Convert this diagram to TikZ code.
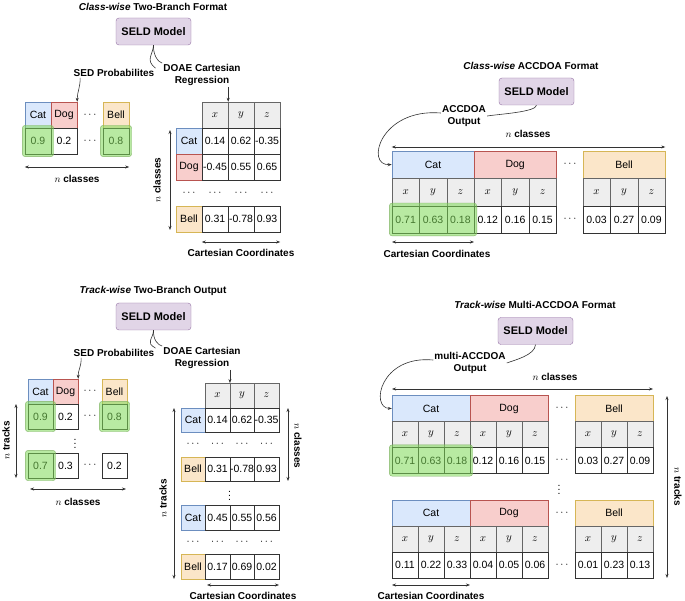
\documentclass[tikz,border=0pt]{standalone}
\usepackage{fontspec}
\setmainfont{Liberation Sans}
\usetikzlibrary{arrows.meta,fit}
\definecolor{bluef}{HTML}{DAE8FC}\definecolor{blued}{HTML}{6C8EBF}
\definecolor{redf}{HTML}{F8CECC}\definecolor{redd}{HTML}{B85450}
\definecolor{orf}{HTML}{FBE6C9}\definecolor{ord}{HTML}{D6B656}
\definecolor{purf}{HTML}{E1D5E7}\definecolor{purd}{HTML}{9673A6}
\definecolor{grf}{HTML}{EEEEEE}
\definecolor{hlf}{HTML}{7ED957}\definecolor{hld}{HTML}{82B366}
\begin{document}
\begin{tikzpicture}[x=1pt,y=-1pt,
  every node/.style={font=\fontsize{10.5}{12}\selectfont},
  model/.style={draw=purd,fill=purf,rounded corners=3pt,minimum width=75pt,minimum height=27pt,font=\fontsize{11}{13}\selectfont\bfseries},
  lab/.style={font=\fontsize{10}{12}\selectfont\bfseries,align=center,inner sep=1pt},
  ttl/.style={font=\fontsize{10}{12}\selectfont\bfseries},
  vd/.style={inner sep=0pt},
  cell/.style={draw=black!80,fill=white,minimum width=#1,minimum height=26pt,inner sep=0pt},
  cell/.default=26pt,
  cat/.style={cell=#1,draw=blued,fill=bluef},cat/.default=26pt,
  dog/.style={cell=#1,draw=redd,fill=redf},dog/.default=26pt,
  bell/.style={cell=#1,draw=ord,fill=orf},bell/.default=26pt,
  ax/.style={cell=#1,draw=black!60,fill=grf},ax/.default=26pt,
  hl/.style={draw=hld,fill=hlf,fill opacity=0.55,rounded corners=3pt,inner sep=2.5pt},
  con/.style={draw=black!80,line width=0.6pt},
  arr/.style={con,-{Stealth[length=4pt,width=3pt]}},
  dim/.style={con,{Stealth[length=4pt,width=3pt]}-{Stealth[length=4pt,width=3pt]}}]
\fill[white] (0,0) rectangle (685,601);
\useasboundingbox (0,0) rectangle (685,601);

% ================= Top-left =================
\node[ttl] (t1) at (153,7) {\textit{Class-wise} Two-Branch Format};
\node[model] (m1) at (153.5,31.5) {SELD Model};
\node[lab] (sed1) at (114,73) {SED Probabilites};
\node[lab] (doa1) at (202,75) {DOAE Cartesian\\Regression};
\draw[con] (m1.south) .. controls (153,55) and (145,60) .. (sed1.north east);
\draw[con] (m1.south) .. controls (153,55) and (158,62) .. (doa1.north west);
\node[cat] (a1) at (38,115) {Cat};
\node[dog] (a2) at (64,115) {Dog};
\node (a3) at (90,115) {$\cdots$};
\node[bell] (a4) at (116,115) {Bell};
\node[cell] (b1) at (38,141) {0.9};
\node[cell] (b2) at (64,141) {0.2};
\node (b3) at (90,141) {$\cdots$};
\node[cell] (b4) at (116,141) {0.8};
\node[hl,fit=(b1)] (g1) {};
\node[hl,fit=(b4)] (g2) {};
\draw[arr] ([xshift=3pt]sed1.south -| a2.east) .. controls +(0,10) and +(0,-10) .. (a2.north east);
\draw[dim] (a1.south west |- 0,167) coordinate (d1) -- (a4.south east |- 0,167) coordinate (d2);
\node[lab] (nc1) at (77,179) {$n$ classes};
\node[ax] (x1) at (215,115) {$x$};
\node[ax] (x2) at (241,115) {$y$};
\node[ax] (x3) at (267,115) {$z$};
\foreach \n/\y/\s/\l/\u/\v/\w in {c/141/cat/Cat/0.14/0.62/-0.35, d/167/dog/Dog/-0.45/0.55/0.65, e/219/bell/Bell/0.31/-0.78/0.93}{
  \node[\s] (tl\n0) at (189,\y) {\l};
  \node[cell] (tl\n1) at (215,\y) {\u};
  \node[cell] (tl\n2) at (241,\y) {\v};
  \node[cell] (tl\n3) at (267,\y) {\w};
}
\foreach \x [count=\i] in {189,215,241,267}{\node[vd] (tld\i) at (\x,193) {$\cdots$};}
\draw[arr] (doa1.south -| x1.east) -- (x1.north east);
\draw[dim] (170,130) coordinate (v1) -- (170,230) coordinate (v2);
\node[lab,rotate=90] (nc2) at (157,180) {$n$ classes};
\draw[dim] (x1.west |- 0,242) coordinate (h1) -- (x3.east |- 0,242) coordinate (h2);
\node[lab] (cc1) at (241,253) {Cartesian Coordinates};

% ================= Bottom-left =================
\node[ttl] (t2) at (153,291) {\textit{Track-wise} Two-Branch Output};
\node[model] (m2) at (153.5,316.5) {SELD Model};
\node[lab] (sed2) at (114,353) {SED Probabilites};
\node[lab] (doa2) at (202,358) {DOAE Cartesian\\Regression};
\draw[con] (m2.south) .. controls (153,340) and (145,342) .. (sed2.north east);
\draw[con] (m2.south) .. controls (153,340) and (158,345) .. (doa2.north west);
\foreach \n/\x/\s/\l in {1/40.5/cat/Cat,2/65.5/dog/Dog,4/114.5/bell/Bell}{\node[\s=25pt,minimum height=25pt] (p\n) at (\x,391.5) {\l};}
\node (p3) at (90,391.5) {$\cdots$};
\foreach \n/\x/\v in {1/40.5/0.9,2/65.5/0.2,4/114.5/0.8}{\node[cell=25pt,minimum height=25pt] (q\n) at (\x,416.5) {\v};}
\node (q3) at (90,416.5) {$\cdots$};
\node[vd] (qv) at (75,441) {$\vdots$};
\foreach \n/\x/\v in {1/40.5/0.7,2/65.5/0.3,4/114.5/0.2}{\node[cell=25pt,minimum height=25pt] (r\n) at (\x,465.5) {\v};}
\node (r3) at (90,465.5) {$\cdots$};
\node[hl,fit=(q1)] (g3) {};
\node[hl,fit=(q4)] (g4) {};
\node[hl,fit=(r1)] (g5) {};
\draw[arr] ([xshift=3pt]sed2.south -| p2.east) .. controls +(0,10) and +(0,-10) .. (p2.north east);
\draw[dim] (16,404) coordinate (v3) -- (16,478) coordinate (v4);
\node[lab,rotate=90] (nt1) at (6,440) {$n$ tracks};
\draw[dim] (30,489) coordinate (h3) -- (126,489) coordinate (h4);
\node[lab] (nc3) at (78,502) {$n$ classes};
\node[ax=24.5pt,minimum height=24.5pt] (y1) at (217.5,395.5) {$x$};
\node[ax=24.5pt,minimum height=24.5pt] (y2) at (242,395.5) {$y$};
\node[ax=24.5pt,minimum height=24.5pt] (y3) at (266.5,395.5) {$z$};
\foreach \n/\y/\s/\l/\u/\v/\w in {c/420/cat/Cat/0.14/0.62/-0.35, d/469/bell/Bell/0.31/-0.78/0.93, e/517.5/cat/Cat/0.45/0.55/0.56, f/566.5/bell/Bell/0.17/0.69/0.02}{
  \node[\s=24.5pt,minimum height=24.5pt] (bl\n0) at (193,\y) {\l};
  \node[cell=24.5pt,minimum height=24.5pt] (bl\n1) at (217.5,\y) {\u};
  \node[cell=24.5pt,minimum height=24.5pt] (bl\n2) at (242,\y) {\v};
  \node[cell=24.5pt,minimum height=24.5pt] (bl\n3) at (266.5,\y) {\w};
}
\foreach \x [count=\i] in {193,217.5,242,266.5}{\node[vd] (bld\i) at (\x,444) {$\cdots$}; \node[vd] (ble\i) at (\x,542) {$\cdots$};}
\node[vd] (blv) at (229.5,493) {$\vdots$};
\draw[arr] (doa2.south -| y1.east) -- (y1.north east);
\draw[dim] (174,408) coordinate (v5) -- (174,579) coordinate (v6);
\node[lab,rotate=90] (nt2) at (163,498) {$n$ tracks};
\draw[dim] (288,408) coordinate (v7) -- (288,481) coordinate (v8);
\node[lab,rotate=-90] (nc4) at (298,446) {$n$ classes};
\draw[dim] (207,585) coordinate (h5) -- (279,585) coordinate (h6);
\node[lab] (cc2) at (243,596) {Cartesian Coordinates};

% ================= Top-right =================
\node[ttl] (t3) at (531,66) {\textit{Class-wise} ACCDOA Format};
\node[model] (m3) at (536.5,91.5) {SELD Model};
\node[lab] (ac1) at (464,116) {ACCDOA\\Output};
\draw[con] (m3.south) .. controls (536,112) and (500,114) .. (ac1.east);
\node[cat=82.2pt,minimum height=27.5pt] (u1) at (433,164.5) {Cat};
\node[dog=82.2pt,minimum height=27.5pt] (u2) at (515.2,164.5) {Dog};
\node (u3) at (570,164.5) {$\cdots$};
\node[bell=82.2pt,minimum height=27.5pt] (u4) at (624,164.5) {Bell};
\draw[arr] (ac1.west) ++(0,-3) .. controls (380,108) and (365,166) .. (u1.west);
\foreach \x/\a/\v [count=\i] in {405.7/x/0.71,433/y/0.63,460.4/z/0.18,487.8/x/0.12,515.2/y/0.16,542.6/z/0.15,596.6/x/0.03,624/y/0.27,651.4/z/0.09}{
  \node[ax=27.4pt,minimum height=27.5pt] (ux\i) at (\x,192) {$\a$};
  \node[cell=27.4pt,minimum height=27.5pt] (uv\i) at (\x,219.5) {\v};
}
\node (u5) at (570,219.5) {$\cdots$};
\node[hl,fit=(uv1)(uv3)] (g6) {};
\draw[dim] (u1.north west |- 0,147) coordinate (h7) -- (u4.north east |- 0,147) coordinate (h8);
\node[lab] (nc5) at (528,134) {$n$ classes};
\draw[dim] (392,242) coordinate (h9) -- (474,242) coordinate (h10);
\node[lab] (cc3) at (437,254) {Cartesian Coordinates};

% ================= Bottom-right =================
\node[ttl] (t4) at (535,305) {\textit{Track-wise} Multi-ACCDOA Format};
\node[model] (m4) at (535.5,331) {SELD Model};
\node[lab] (ac2) at (470,363) {multi-ACCDOA\\Output};
\draw[con] (m4.south) .. controls (535,355) and (515,360) .. (ac2.east);
\foreach \b/\yh/\yx/\yv/\va/\vb/\vc/\vd/\ve/\vf/\vg/\vh/\vi in {1/408.5/434.5/460.5/0.71/0.63/0.18/0.12/0.16/0.15/0.03/0.27/0.09, 2/513/539/565/0.11/0.22/0.33/0.04/0.05/0.06/0.01/0.23/0.13}{
  \node[cat=78pt] (w\b c) at (431,\yh) {Cat};
  \node[dog=78pt] (w\b d) at (509,\yh) {Dog};
  \node (w\b e) at (562,\yh) {$\cdots$};
  \node[bell=78pt] (w\b f) at (614,\yh) {Bell};
  \node (w\b g) at (562,\yv) {$\cdots$};
  \foreach \x/\a/\v [count=\i] in {405/x/\va,431/y/\vb,457/z/\vc,483/x/\vd,509/y/\ve,535/z/\vf,588/x/\vg,614/y/\vh,640/z/\vi}{
    \node[ax] (w\b x\i) at (\x,\yx) {$\a$};
    \node[cell] (w\b v\i) at (\x,\yv) {\v};
  }
}
\node[hl,fit=(w1v1)(w1v3)] (g7) {};
\node[vd] (wv) at (559,487) {$\vdots$};
\draw[arr] (ac2.west) ++(0,-3) .. controls (380,355) and (370,408) .. (w1c.west);
\draw[dim] (392,389) coordinate (h11) -- (653,389) coordinate (h12);
\node[lab] (nc6) at (555,377) {$n$ classes};
\draw[dim] (667,396) coordinate (v9) -- (667,578) coordinate (v10);
\node[lab,rotate=-90] (nt3) at (678,487) {$n$ tracks};
\draw[dim] (392,585) coordinate (h13) -- (470,585) coordinate (h14);
\node[lab] (cc4) at (431,596) {Cartesian Coordinates};
\end{tikzpicture}
\end{document}
